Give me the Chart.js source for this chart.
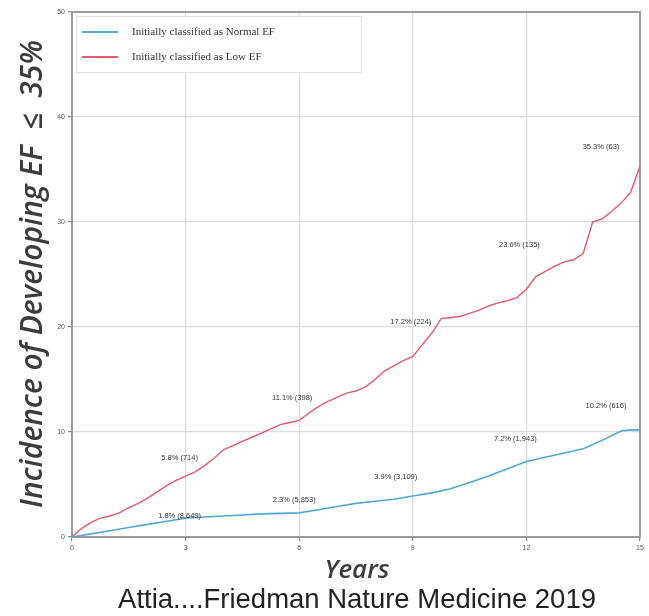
<!DOCTYPE html>
<html>
<head>
<meta charset="utf-8">
<script src="https://cdn.jsdelivr.net/npm/chart.js@4/dist/chart.umd.min.js"></script>
<style>
  html, body { margin: 0; padding: 0; background: #ffffff; }
  #wrap { width: 649px; height: 616px; }
</style>
</head>
<body>
<div id="wrap"><canvas id="c" width="649" height="616"></canvas></div>
<script>
// Cumulative incidence (%) by follow-up year
const normalYears = [0, 0.5, 1, 1.5, 2, 2.5, 3, 3.5, 4, 4.5, 5, 5.5, 6, 6.5, 7, 7.5, 8, 8.5, 9, 9.5, 10, 10.5, 11, 11.5, 12, 12.5, 13, 13.5, 14, 14.5, 14.75, 15];
const normalValues = [0, 0.3, 0.6, 0.9, 1.2, 1.5, 1.8, 1.9, 2.0, 2.1, 2.2, 2.25, 2.3, 2.6, 2.9, 3.2, 3.4, 3.6, 3.9, 4.2, 4.6, 5.2, 5.8, 6.5, 7.2, 7.6, 8.0, 8.4, 9.2, 10.1, 10.2, 10.2];

const lowYears = [0, 0.25, 0.5, 0.75, 1, 1.25, 1.5, 1.75, 2, 2.25, 2.5, 2.75, 3, 3.25, 3.5, 3.75, 4, 4.25, 4.5, 4.75, 5, 5.25, 5.5, 5.75, 6, 6.25, 6.5, 6.75, 7, 7.25, 7.5, 7.75, 8, 8.25, 8.5, 8.75, 9, 9.25, 9.5, 9.75, 10, 10.25, 10.5, 10.75, 11, 11.25, 11.5, 11.75, 12, 12.25, 12.5, 12.75, 13, 13.25, 13.5, 13.75, 14, 14.25, 14.5, 14.75, 15];
const lowValues = [0, 0.8, 1.4, 1.8, 2.0, 2.3, 2.8, 3.2, 3.7, 4.3, 4.9, 5.4, 5.8, 6.2, 6.8, 7.5, 8.3, 8.7, 9.1, 9.5, 9.9, 10.3, 10.7, 10.9, 11.1, 11.8, 12.4, 12.9, 13.3, 13.7, 13.9, 14.3, 15.0, 15.8, 16.3, 16.8, 17.2, 18.3, 19.4, 20.8, 20.9, 21.0, 21.3, 21.6, 22.0, 22.3, 22.5, 22.8, 23.6, 24.8, 25.3, 25.8, 26.2, 26.4, 27.0, 30.0, 30.3, 31.0, 31.8, 32.8, 35.3];

// Annotated landmarks: year, incidence, patients at risk
const landmarkYears = [3, 6, 9, 12, 15];
const normalLandmarkText = ['1.8% (8,649)', '2.3% (5,853)', '3.9% (3,109)', '7.2% (1,943)', '10.2% (616)'];
const lowLandmarkText = ['5.8% (714)', '11.1% (398)', '17.2% (224)', '23.6% (135)', '35.3% (63)'];

const xTicks = [0, 3, 6, 9, 12, 15];
const yTicks = [0, 10, 20, 30, 40, 50];

const seriesNames = ['Initially classified as Normal EF', 'Initially classified as Low EF'];

// Pixel nudges for landmark labels relative to their points
const normalLabelNudge = [[-6, -2], [-5, -13], [-17, -19], [-11, -22], [-34, -24]];
const lowLabelNudge = [[-6, -18], [-7, -23], [-2, -34], [-7, -44], [-39, -19]];

const BLUE = '#52a7d6';
const RED = '#e65a6e';

function toPoints(xs, ys) { return xs.map((x, i) => ({ x: x, y: ys[i] })); }

// pick a font size so that a string spans the wanted width
function fitFont(ctx, text, style, family, width) {
  let size = 10;
  ctx.font = style + ' ' + size + 'px ' + family;
  const w = ctx.measureText(text).width;
  size = size * width / w;
  return style + ' ' + size.toFixed(2) + 'px ' + family;
}

const framePlugin = {
  id: 'frame',
  beforeDatasetsDraw(chart) {
    const { ctx, chartArea: a } = chart;
    ctx.save();
    ctx.strokeStyle = '#9a9a9a';
    ctx.lineWidth = 2;
    ctx.strokeRect(a.left, a.top, a.right - a.left, a.bottom - a.top);
    ctx.restore();
  },
  afterDraw(chart) {
    const { ctx, chartArea: a } = chart;
    const xs = chart.scales.x, ys = chart.scales.y;
    ctx.save();

    // landmark labels
    ctx.font = '7.5px "Liberation Sans", Arial, sans-serif';
    ctx.fillStyle = '#333';
    ctx.textAlign = 'center';
    ctx.textBaseline = 'middle';
    const drawMarks = (years, vals, texts, nudges) => {
      texts.forEach((t, i) => {
        const yr = landmarkYears[i];
        const idx = years.indexOf(yr);
        const px = xs.getPixelForValue(yr);
        const py = ys.getPixelForValue(vals[idx]);
        ctx.fillText(t, px + nudges[i][0], py + nudges[i][1]);
      });
    };
    drawMarks(normalYears, normalValues, normalLandmarkText, normalLabelNudge);
    drawMarks(lowYears, lowValues, lowLandmarkText, lowLabelNudge);

    // legend box inside plot
    const lx = a.left + 4, ly = a.top + 4, lw = 285, lh = 56;
    ctx.fillStyle = 'rgba(255,255,255,0.92)';
    ctx.fillRect(lx, ly, lw, lh);
    ctx.strokeStyle = '#e2e2e2';
    ctx.lineWidth = 1;
    ctx.strokeRect(lx + 0.5, ly + 0.5, lw, lh);
    const cols = [BLUE, RED];
    ctx.font = '11px "Liberation Serif", "Times New Roman", serif';
    ctx.textAlign = 'left';
    seriesNames.forEach((name, i) => {
      const yy = ly + 16 + i * 25;
      ctx.strokeStyle = cols[i];
      ctx.lineWidth = 2;
      ctx.beginPath();
      ctx.moveTo(lx + 6, yy);
      ctx.lineTo(lx + 42, yy);
      ctx.stroke();
      ctx.fillStyle = '#333';
      ctx.fillText(name, lx + 56, yy);
    });

    // axis titles and caption
    ctx.fillStyle = '#3c3c3c';
    ctx.textAlign = 'center';
    ctx.textBaseline = 'middle';
    const yTitle = 'Incidence of Developing EF  \u2264  35%';
    ctx.font = fitFont(ctx, yTitle, 'italic 600', '"Open Sans", "DejaVu Sans", sans-serif', 468);
    ctx.save();
    ctx.translate(33, 274);
    ctx.rotate(-Math.PI / 2);
    ctx.fillText(yTitle, 0, 0);
    ctx.restore();
    ctx.font = fitFont(ctx, 'Years', 'italic 600', '"Open Sans", "DejaVu Sans", sans-serif', 65);
    ctx.fillText('Years', 357, 571);
    ctx.fillStyle = '#222';
    const caption = 'Attia....Friedman Nature Medicine 2019';
    ctx.font = fitFont(ctx, caption, '', '"Liberation Sans", Arial, sans-serif', 478);
    ctx.fillText(caption, 357, 600);
    ctx.restore();
  }
};

new Chart(document.getElementById('c'), {
  type: 'line',
  data: {
    datasets: [
      {
        label: seriesNames[0],
        data: toPoints(normalYears, normalValues),
        borderColor: BLUE,
        borderWidth: 1.6,
        pointRadius: 0,
        tension: 0,
        fill: false
      },
      {
        label: seriesNames[1],
        data: toPoints(lowYears, lowValues),
        borderColor: RED,
        borderWidth: 1.4,
        pointRadius: 0,
        tension: 0,
        fill: false
      }
    ]
  },
  options: {
    responsive: false,
    animation: false,
    layout: { padding: { left: 0, right: 9, top: 12, bottom: 59 } },
    plugins: { legend: { display: false }, tooltip: { enabled: false } },
    scales: {
      x: {
        type: 'linear',
        min: 0, max: 15,
        afterBuildTicks(s) { s.ticks = xTicks.map(v => ({ value: v })); },
        afterFit(s) { s.height = 20; },
        grid: { color: '#dcdcdc', lineWidth: 1.2, tickLength: 4, tickColor: '#888' },
        border: { display: false },
        ticks: { color: '#555', font: { size: 7 }, padding: 3, maxRotation: 0 }
      },
      y: {
        type: 'linear',
        min: 0, max: 50,
        afterBuildTicks(s) { s.ticks = yTicks.map(v => ({ value: v })); },
        afterFit(s) { s.width = 72; },
        grid: { color: '#dcdcdc', lineWidth: 1.2, tickLength: 4, tickColor: '#888' },
        border: { display: false },
        ticks: { color: '#555', font: { size: 7 }, padding: 3 }
      }
    }
  },
  plugins: [framePlugin]
});
</script>
</body>
</html>
